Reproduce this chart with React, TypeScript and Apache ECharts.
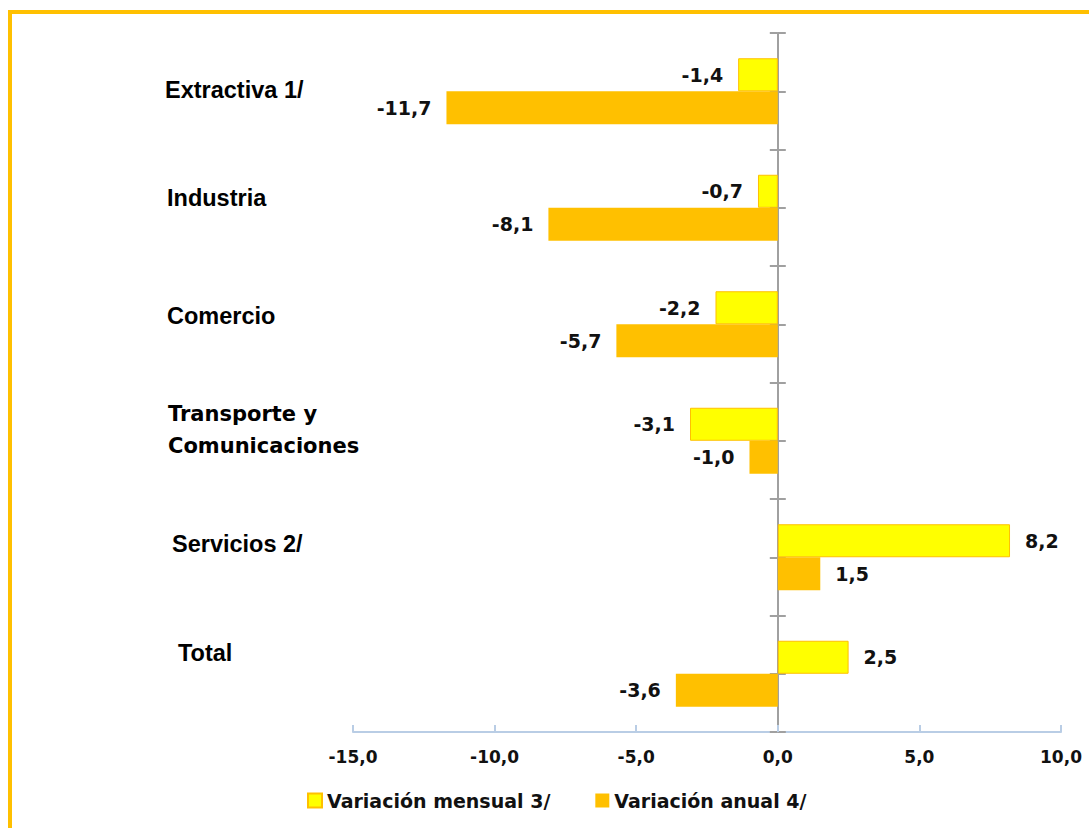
import React, { useEffect, useRef } from "react";
import * as echarts from "echarts";

const categories = [
  "Extractiva 1/",
  "Industria",
  "Comercio",
  "Transporte y\nComunicaciones",
  "Servicios 2/",
  "Total",
];
const seriesNames = ["Variación mensual 3/", "Variación anual 4/"];
const mensual = [-1.4, -0.7, -2.2, -3.1, 8.2, 2.5];
const anual = [-11.7, -8.1, -5.7, -1.0, 1.5, -3.6];
const xMin = -15;
const xMax = 10;
const xStep = 5;

// label nudges [left, up] in px (layout only)
const labelNudge = [
  [0, 1],
  [2, 10],
  [2, 8],
  [3, 11],
  [7, 13],
  [13, 21],
];

const fmt = (v: number) => v.toFixed(1).replace(".", ",");

const GRID_LEFT = 353;
const GRID_RIGHT = 28;
const WIDTH = 1089;

export default function App() {
  const ref = useRef<HTMLDivElement>(null);
  useEffect(() => {
    if (!ref.current) return;
    const chart = echarts.init(ref.current, null, { renderer: "svg" });
    const labelFont = {
      fontFamily: "DejaVu Sans",
      fontWeight: "bold" as const,
      fontSize: 19,
      color: "#111",
    };
    const mkData = (arr: number[]) =>
      arr.map((v) => ({
        value: v,
        label: { position: v < 0 ? "left" : "right" },
      }));
    const rich: Record<string, any> = {};
    labelNudge.forEach(([dx, up], i) => {
      const multi = categories[i].includes("\n");
      rich["t" + i] = multi
        ? {
            fontFamily: "DejaVu Sans",
            fontWeight: "bold",
            fontSize: 21,
            lineHeight: 32,
            color: "#000",
            padding: [0, 0, 0, dx],
          }
        : {
            fontFamily: "Liberation Sans",
            fontWeight: "bold",
            fontSize: 23.5,
            lineHeight: 28,
            color: "#000",
            padding: [0, 0, 0, dx],
          };
      rich["s" + i] = { fontSize: 1, lineHeight: Math.max(1, up * 2), height: Math.max(1, up * 2) };
    });
    const gridWidth = WIDTH - GRID_LEFT - GRID_RIGHT;
    const zeroX = GRID_LEFT + ((0 - xMin) / (xMax - xMin)) * gridWidth;
    chart.setOption({
      animation: false,
      backgroundColor: "#fff",
      graphic: [
        {
          type: "rect",
          shape: { x: 10, y: 12, width: 1200, height: 1000 },
          style: { fill: "none", stroke: "#FFC000", lineWidth: 4 },
          silent: true,
        },
      ],
      grid: {
        left: GRID_LEFT,
        right: GRID_RIGHT,
        top: 33,
        bottom: 96,
        outerBoundsMode: "none",
        containLabel: false,
      },
      legend: {
        data: seriesNames,
        left: 307,
        top: 791,
        padding: 0,
        itemWidth: 14,
        itemHeight: 14,
        itemGap: 45,
        icon: "rect",
        textStyle: {
          fontFamily: "DejaVu Sans",
          fontWeight: "bold",
          fontSize: 19,
          color: "#111",
        },
      },
      xAxis: {
        type: "value",
        min: xMin,
        max: xMax,
        interval: xStep,
        axisLine: { show: true, lineStyle: { color: "#B9CDE5", width: 2 } },
        axisTick: {
          show: true,
          inside: true,
          length: 7,
          lineStyle: { color: "#B9CDE5", width: 2 },
        },
        splitLine: { show: false },
        axisLabel: {
          formatter: (v: number) => fmt(v),
          fontFamily: "DejaVu Sans",
          fontWeight: "bold",
          fontSize: 17,
          color: "#111",
          margin: 16,
        },
      },
      yAxis: [
        {
          type: "category",
          inverse: true,
          data: categories,
          axisLine: { show: false, onZero: false },
          axisTick: { show: false },
          axisLabel: {
            align: "left",
            margin: 188,
            color: "#000",
            formatter: (value: string, idx: number) =>
              value
                .split("\n")
                .map((line) => `{t${idx}|${line}}`)
                .join("\n") + `\n{s${idx}| }`,
            rich,
          },
        },
        {
          type: "value",
          min: 0,
          max: 12,
          interval: 1,
          position: "left",
          axisLine: { show: true, onZero: true, lineStyle: { color: "#A0A0A0", width: 2 } },
          axisTick: { show: true, inside: true, length: 8, lineStyle: { color: "#A0A0A0", width: 2 } },
          axisLabel: { show: false },
          splitLine: { show: false },
        },
        {
          type: "value",
          min: 0,
          max: 12,
          interval: 1,
          position: "left",
          offset: -(zeroX - GRID_LEFT),
          axisLine: { show: false, onZero: false },
          axisTick: { show: true, inside: false, length: 8, lineStyle: { color: "#A0A0A0", width: 2 } },
          axisLabel: { show: false },
          splitLine: { show: false },
        },
      ],
      series: [
        {
          name: seriesNames[0],
          type: "bar",
          yAxisIndex: 0,
          data: mkData(mensual),
          barWidth: 33,
          barGap: "0%",
          itemStyle: { color: "#FFFF00", borderColor: "#FFC000", borderWidth: 1 },
          label: { show: true, distance: 15, formatter: (p: any) => fmt(p.value), ...labelFont },
          z: 1,
        },
        {
          name: seriesNames[1],
          type: "bar",
          yAxisIndex: 0,
          data: mkData(anual),
          barWidth: 33,
          barGap: "0%",
          itemStyle: { color: "#FFC000" },
          label: { show: true, distance: 15, formatter: (p: any) => fmt(p.value), ...labelFont },
          z: 1,
        },
      ],
    });
    return () => chart.dispose();
  }, []);
  return (
    <div
      ref={ref}
      style={{ position: "fixed", left: 0, top: 0, width: WIDTH, height: 828 }}
    />
  );
}
